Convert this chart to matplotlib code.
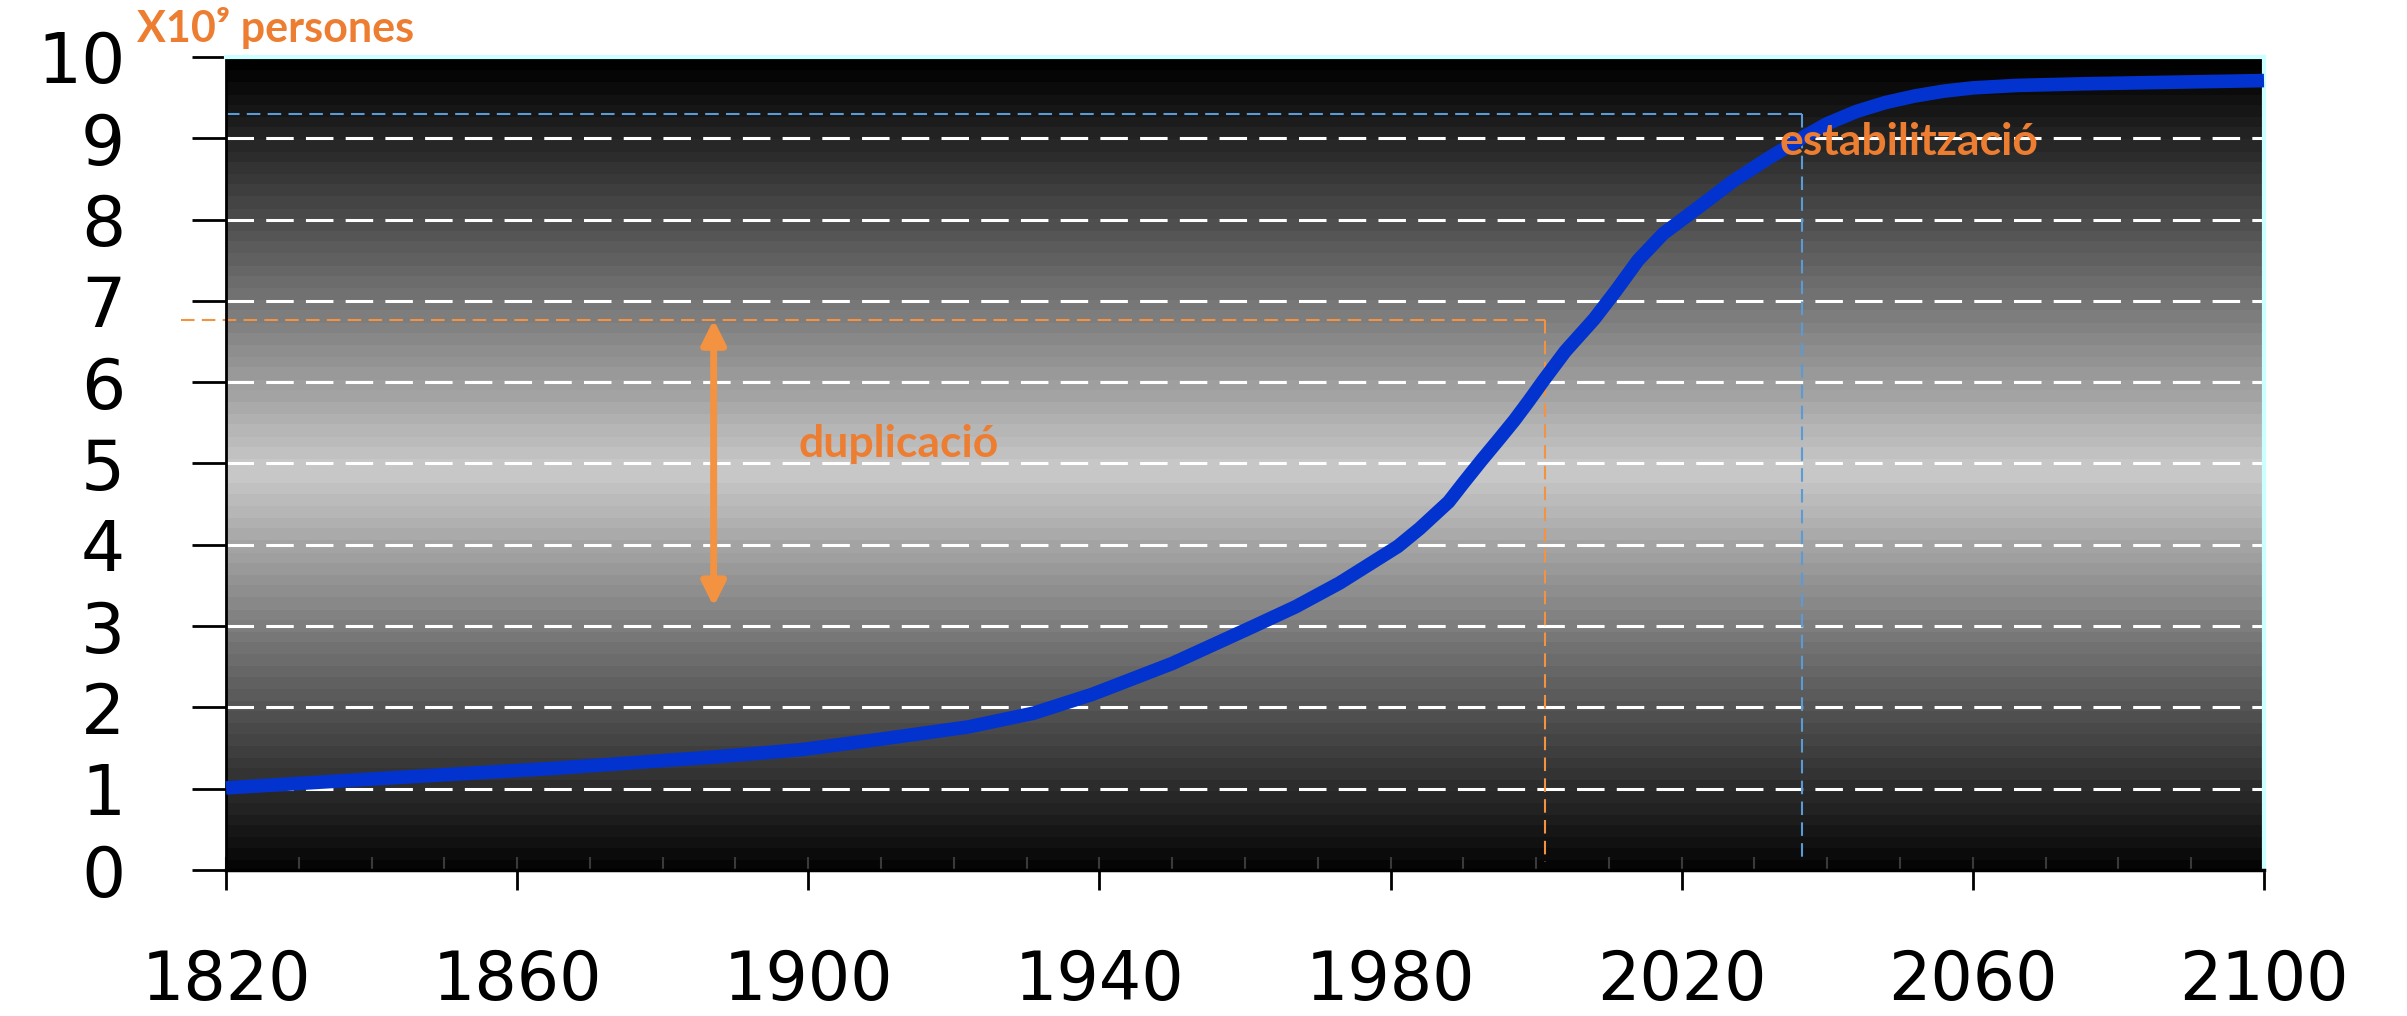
import numpy as np
import matplotlib
matplotlib.use("Agg")
import matplotlib.pyplot as plt
from matplotlib.ticker import MultipleLocator

# ---- data ----
years = [1820, 1842, 1865, 1887, 1899, 1910, 1922, 1931, 1939, 1950, 1961, 1967,
         1973, 1981, 1984, 1988, 1990, 1992.5, 1995, 1997, 1999, 2001, 2004, 2008,
         2011, 2014, 2017.5, 2022, 2027, 2032, 2037, 2040, 2044, 2048, 2052, 2056,
         2060, 2066, 2075, 2100]
population = [1.01, 1.13, 1.25, 1.39, 1.48, 1.61, 1.76, 1.93, 2.16, 2.54, 2.99, 3.24,
              3.53, 3.98, 4.20, 4.53, 4.76, 5.04, 5.31, 5.53, 5.77, 6.02, 6.38, 6.78,
              7.13, 7.50, 7.83, 8.13, 8.47, 8.76, 9.03, 9.18, 9.33, 9.44, 9.52, 9.58,
              9.62, 9.65, 9.67, 9.71]
x_ticks = [1820, 1860, 1900, 1940, 1980, 2020, 2060, 2100]
y_ticks = [0, 1, 2, 3, 4, 5, 6, 7, 8, 9, 10]

# annotation values
dup_year = 2001.2
dup_level = 6.77
dup_arrow_year = 1887
dup_arrow_low = 3.24
stab_year = 2036.5
stab_level = 9.30

ORANGE_TXT = "#ED7D31"
ORANGE_ARW = "#F39241"
BLUE_LINE = "#0333CF"
BLUE_DASH = "#5B9BD5"

fig = plt.figure(figsize=(24.07, 10.16), dpi=100)
ax = fig.add_axes([0.09389, 0.14370, 0.84670, 0.80020])

# background gradient
v = np.linspace(10, 0, 400)
g = 0.79 * np.clip(1 - np.abs(v - 4.9) / 5.0, 0, 1)
g = np.round(g * 45) / 45
ax.imshow(g[:, None], extent=[1820, 2100, 0, 10], aspect="auto", cmap="gray",
          vmin=0, vmax=1, zorder=0, interpolation="nearest")

ax.set_xlim(1820, 2100)
ax.set_ylim(0, 10)

# grid lines
for yv in y_ticks[1:-1]:
    ax.axhline(yv, color="white", lw=2.2, ls=(0, (9, 4)), zorder=1)

# guide lines
ax.plot([1813.8, dup_year], [dup_level, dup_level], color=ORANGE_ARW, lw=1.5,
        ls=(0, (6.5, 3.5)), clip_on=False, zorder=2)
ax.plot([dup_year, dup_year], [dup_level, 0.1], color=ORANGE_ARW, lw=1.5,
        ls=(0, (6.5, 3.5)), zorder=2)
ax.plot([1820, stab_year], [stab_level, stab_level], color=BLUE_DASH, lw=1.5,
        ls=(0, (6.5, 3.5)), zorder=2)
ax.plot([stab_year, stab_year], [stab_level, 0.1], color=BLUE_DASH, lw=1.5,
        ls=(0, (6.5, 3.5)), zorder=2)

# double arrow
ax.annotate("", xy=(dup_arrow_year, dup_arrow_low), xytext=(dup_arrow_year, dup_level),
            arrowprops=dict(arrowstyle="<|-|>", color=ORANGE_ARW, lw=5,
                            mutation_scale=36, shrinkA=0, shrinkB=0), zorder=3)

# population curve
ax.plot(years, population, color=BLUE_LINE, lw=9.8, solid_capstyle="butt",
        solid_joinstyle="round", zorder=4, clip_on=False)

# labels
ax.text(1898.7, 5.08, "duplicació", color=ORANGE_TXT, fontsize=32,
        fontweight="bold", family="Lato", va="baseline", ha="left", zorder=5)
ax.text(2033.5, 8.79, "estabilització", color=ORANGE_TXT, fontsize=32,
        fontweight="bold", family="Lato", va="baseline", ha="left", zorder=5)
fig.text(137 / 2407, 1 - 41.7 / 1016, "X10⁹ persones", color=ORANGE_TXT,
         fontsize=31, fontweight="bold", family=["Lato", "DejaVu Sans"],
         va="baseline", ha="left")

# ticks
ax.set_xticks(x_ticks)
ax.set_yticks(y_ticks)
ax.xaxis.set_minor_locator(MultipleLocator(10))
ax.xaxis.remove_overlapping_locs = False
ax.tick_params(axis="x", which="major", direction="out", length=14.4, width=2,
               pad=42, labelsize=48, colors="black")
ax.tick_params(axis="x", which="minor", direction="in", length=9.5, width=1.5,
               color="#3a3a3a")
ax.tick_params(axis="y", which="major", direction="out", length=24.5, width=2,
               pad=48, labelsize=50)
for lab in ax.get_xticklabels() + ax.get_yticklabels():
    lab.set_family("DejaVu Sans")

for side in ["top", "right"]:
    ax.spines[side].set_color("#CCFFFF")
    ax.spines[side].set_linewidth(3)
ax.spines["left"].set_color("black")
ax.spines["left"].set_linewidth(2)
ax.spines["bottom"].set_color("black")
ax.spines["bottom"].set_linewidth(2.5)

fig.savefig("out.png", dpi=100, facecolor="white")
